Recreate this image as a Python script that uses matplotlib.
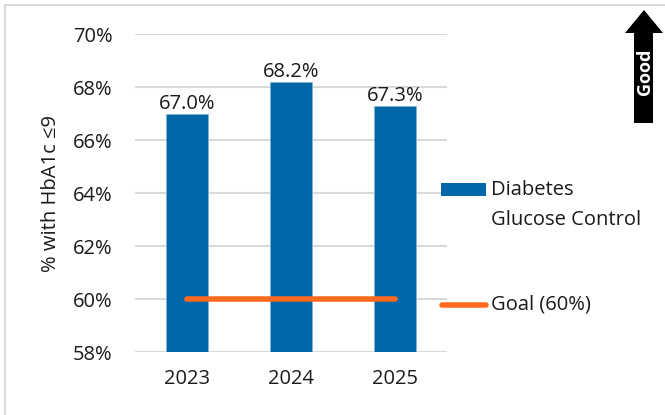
import matplotlib
matplotlib.use("Agg")
import matplotlib.pyplot as plt
from matplotlib.patches import Rectangle, Polygon
from matplotlib.lines import Line2D

years = ["2023", "2024", "2025"]
values = [67.0, 68.2, 67.3]
goal = 60.0
yticks = [58, 60, 62, 64, 66, 68, 70]
series_label = "Diabetes\nGlucose Control"
goal_label = "Goal (60%)"
ylabel = "% with HbA1c \u22649"

BLUE = "#0068A8"
ORANGE = "#FF6A1F"
GRID = "#D9D9D9"
TXT = "#1A1A1A"
FONT = ["Open Sans", "DejaVu Sans"]
plt.rcParams["font.family"] = FONT
FS = 14.5

W, H = 665, 415
fig = plt.figure(figsize=(W / 100, H / 100), dpi=100)
fx = lambda px: px / W
fy = lambda py: (H - py) / H

ax = fig.add_axes([fx(135), fy(352), fx(447) - fx(135), fy(34) - fy(352)])
x = list(range(len(years)))
bars = ax.bar(x, values, width=0.4, color=BLUE, edgecolor="#7FB2D6", linewidth=0.6, zorder=2)
ax.plot([x[0], x[-1]], [goal, goal], color=ORANGE, lw=4, solid_capstyle="round", zorder=3)
for xi, v in zip(x, values):
    ax.annotate(f"{v:.1f}%", (xi, v), xytext=(0, 0), textcoords="offset points",
                ha="center", va="bottom", fontsize=FS, color=TXT)

ax.set_xlim(-0.5, len(years) - 0.5)
ax.set_ylim(yticks[0], yticks[-1])
ax.set_yticks(yticks)
ax.set_yticklabels([f"{t}%" for t in yticks])
ax.set_xticks(x)
ax.set_xticklabels(years)
ax.tick_params(axis="both", length=0, labelsize=FS, labelcolor=TXT)
ax.tick_params(axis="y", pad=16)
ax.tick_params(axis="x", pad=12)
ax.grid(axis="y", color=GRID, lw=1.5, zorder=0)
ax.set_axisbelow(True)
for s in ax.spines.values():
    s.set_visible(False)
ax.set_ylabel(ylabel, fontsize=FS, color=TXT, labelpad=9)

# legend (manual)
fig.patches.append(Rectangle((fx(441), fy(196)), fx(486) - fx(441), fy(183) - fy(196),
                             transform=fig.transFigure, facecolor=BLUE, edgecolor="none"))
fig.text(fx(491), fy(205), series_label, fontsize=FS, color=TXT, va="center", ha="left",
         linespacing=1.72)
fig.lines.append(Line2D([fx(442), fx(486)], [fy(305), fy(305)], transform=fig.transFigure,
                        color=ORANGE, lw=4, solid_capstyle="round"))
fig.text(fx(491), fy(304), goal_label, fontsize=FS, color=TXT, va="center", ha="left")

# "Good" arrow
pts = [(634, 123), (653, 123), (653, 33), (663, 33), (644, 10), (625, 33), (634, 33)]
fig.patches.append(Polygon([(fx(a), fy(b)) for a, b in pts], closed=True,
                           transform=fig.transFigure, facecolor="black", edgecolor="none"))
fig.text(fx(645), fy(72), "Good", rotation=90, color="white", fontsize=13,
         fontweight="bold", ha="center", va="center")

# outer frame
fig.lines.append(Line2D([fx(5), fx(5)], [0, fy(5)], transform=fig.transFigure, color=GRID, lw=1.5))
fig.lines.append(Line2D([fx(5), 1], [fy(5), fy(5)], transform=fig.transFigure, color=GRID, lw=1.5))

fig.savefig("out.png", dpi=100, facecolor="white")
